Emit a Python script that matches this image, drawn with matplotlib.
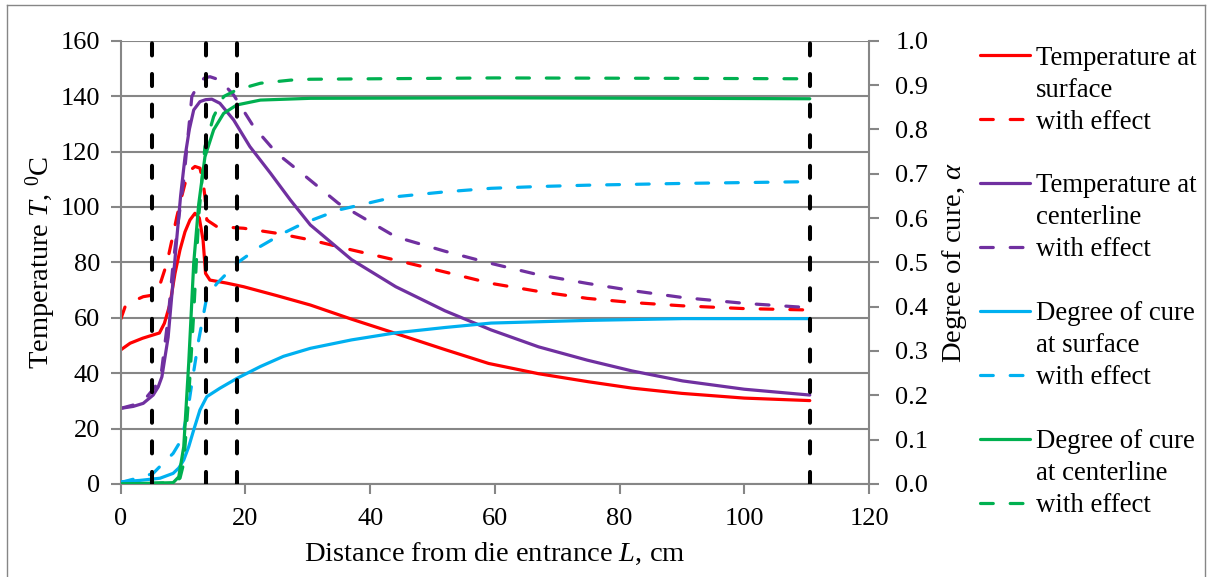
import numpy as np
import matplotlib.pyplot as plt
from matplotlib.lines import Line2D

plt.rcParams['font.family'] = ['Liberation Serif', 'DejaVu Serif']
plt.rcParams['mathtext.fontset'] = 'custom'
plt.rcParams['mathtext.rm'] = 'Liberation Serif'
plt.rcParams['mathtext.it'] = 'Liberation Serif:italic'

# Temperatura na superficie (sem / com efeito)
x_Ts = [0, 1.5, 3.5, 5.2, 6.2, 7.0, 7.9, 8.7, 9.5, 10.3, 11.1, 11.9, 12.6, 13.2, 13.6, 14.3,
        17, 19.7, 25, 30.4, 37, 44, 52, 59, 67, 75, 82, 90, 100, 110.5]
T_s = [48.4, 50.8, 52.6, 53.8, 54.5, 58, 65, 76, 84.5, 91, 95.3, 97.7, 96, 88, 76, 73.6,
       72.5, 71.2, 68, 64.6, 59.5, 54.4, 48.5, 43.5, 39.8, 36.9, 34.6, 32.7, 31.0, 30.1]
x_Ts_e = [0, 0.7, 2, 3.6, 5.2, 6.0, 7.4, 8.2, 9.0, 9.8, 10.6, 11.3, 11.9, 12.7, 13.2, 13.5, 13.8,
          15.4, 19.7, 25, 30.4, 37, 44.1, 52, 59.4, 67, 74.8, 82, 90.1, 100, 110.5]
T_s_e = [59.5, 64, 66, 67.6, 68.2, 70, 79.7, 88, 96.5, 104, 111, 113.5, 114.6, 114, 109, 103.7, 95.3,
         92.9, 92.3, 90.5, 88.1, 84.5, 80.8, 76.5, 72.4, 69.5, 67, 65.5, 64.3, 63.3, 62.8]

# Temperatura na linha central
x_Tc = [0, 2, 3.6, 5.2, 6.0, 6.6, 7.6, 8.3, 9.0, 9.6, 10.3, 11.0, 11.7, 12.7, 13.6, 14.6, 15.9,
        18.1, 20.7, 24.0, 27.2, 30.4, 37, 44.1, 52, 59.4, 67, 74.8, 82, 90.1, 100, 110.5]
T_c = [27.3, 28, 29.1, 32.1, 35, 38.7, 53, 71, 89, 104, 118, 128, 135, 138, 138.7, 138.9, 137.4,
       131.4, 121.8, 112.2, 102.5, 93.5, 81, 71.2, 62.5, 55.6, 49.5, 44.7, 40.8, 37.2, 34.2, 32.1]
x_Tc_e = [0, 2, 4.2, 5.5, 6.5, 7.6, 8.4, 9.3, 10.1, 10.8, 11.4, 12.5, 13.4, 14.3, 15.9, 18.1,
          21.3, 25.0, 29.0, 34.9, 44.1, 52, 59.4, 67, 74.8, 82, 90.1, 100, 108.6, 110.5]
T_c_e = [27.3, 28.5, 31.5, 35, 40, 60, 79.7, 96, 109.7, 126, 139.8, 144.6, 146.5, 147, 145.8, 140.4,
         129, 119.4, 112.2, 101.3, 89.2, 84, 79.6, 75.5, 72.4, 69.8, 67.3, 65.2, 63.9, 63.8]

# Grau de cura na superficie
x_as = [0, 3, 6.3, 8.4, 9.3, 10.1, 10.9, 11.7, 12.7, 13.8, 15.9, 18.6, 22.4, 26.1, 30.4, 37,
        44.1, 52, 59.4, 67, 74.8, 90.1, 110.5]
a_s = [0.005, 0.008, 0.013, 0.024, 0.036, 0.054, 0.084, 0.122, 0.167, 0.197, 0.216, 0.238, 0.265,
       0.288, 0.306, 0.325, 0.341, 0.353, 0.363, 0.366, 0.369, 0.373, 0.373]
x_as_e = [0, 1.5, 3.5, 5.2, 6.8, 8.4, 9.3, 10.1, 10.8, 11.4, 12.5, 13.8, 15.4, 18.6, 22.4, 26.1,
          29.3, 34.9, 44.1, 52, 59.4, 67, 74.8, 90.1, 110.5]
a_s_e = [0.003, 0.009, 0.016, 0.024, 0.047, 0.069, 0.09, 0.122, 0.17, 0.227, 0.325, 0.422, 0.452,
         0.498, 0.536, 0.566, 0.588, 0.618, 0.648, 0.659, 0.667, 0.671, 0.674, 0.678, 0.682]

# Grau de cura na linha central
x_ac = [0, 8.4, 9.3, 10.1, 10.9, 11.7, 12.5, 13.5, 14.9, 16.5, 18.6, 22.4, 30.4, 60, 90, 110.5]
a_c = [0, 0.003, 0.016, 0.084, 0.273, 0.498, 0.631, 0.738, 0.799, 0.836, 0.855, 0.866, 0.870,
       0.871, 0.870, 0.869]
x_ac_e = [0, 8.4, 9.5, 10.1, 10.9, 11.7, 12.5, 13.5, 14.9, 16.5, 18.6, 22.4, 27.2, 30.4, 60, 90, 110.5]
a_c_e = [0, 0.003, 0.013, 0.047, 0.197, 0.385, 0.603, 0.761, 0.829, 0.874, 0.889, 0.904, 0.911,
         0.913, 0.916, 0.915, 0.914]

# Limites das zonas
zonas = [5, 13.6, 18.6, 110.5]

red, purple, cyan, green = '#FF0000', '#7030A0', '#00B0F0', '#00B050'
grey = '#868686'
lw = 2.3
dash = (4, 5.3)
fs_tick = 19
fs_label = 20.5
fs_leg = 19.3

fig = plt.figure(figsize=(12.1, 5.77), dpi=100)
ax = fig.add_axes([0.0998, 0.1612, 0.6184, 0.7683])
ax2 = ax.twinx()

def linha(a, x, y, c, tracejada=False):
    l, = a.plot(x, y, color=c, lw=lw, solid_capstyle='round')
    if tracejada:
        l.set_dashes(dash)
        l.set_dash_capstyle('round')
    return l

l1 = linha(ax, x_Ts, T_s, red)
l2 = linha(ax, x_Ts_e, T_s_e, red, True)
l3 = linha(ax, x_Tc, T_c, purple)
l4 = linha(ax, x_Tc_e, T_c_e, purple, True)
l5 = linha(ax2, x_as, a_s, cyan)
l6 = linha(ax2, x_as_e, a_s_e, cyan, True)
l7 = linha(ax2, x_ac, a_c, green)
l8 = linha(ax2, x_ac_e, a_c_e, green, True)

for z in zonas:
    v = ax2.axvline(z, color='black', lw=2.9, dash_capstyle='round')
    v.set_dashes((3, 4.6))

ax.set_xlim(0, 120)
ax.set_ylim(0, 160)
ax2.set_ylim(0, 1.0)
ax.set_xticks(np.arange(0, 121, 20))
ax.set_yticks(np.arange(0, 161, 20))
ax2.set_yticks(np.arange(0, 1.01, 0.1))
ax2.set_yticklabels([f'{v:.1f}' for v in np.arange(0, 1.01, 0.1)])

ax.grid(axis='y', color=grey, lw=1.5)
ax.set_axisbelow(True)
for a in (ax, ax2):
    for s in a.spines.values():
        s.set_visible(False)
    a.tick_params(labelsize=fs_tick, length=7, width=1.5, color=grey, direction='out')
ax.spines['left'].set_visible(True)
ax.spines['bottom'].set_visible(True)
ax2.spines['right'].set_visible(True)
for s in (ax.spines['left'], ax.spines['bottom'], ax2.spines['right']):
    s.set_color(grey)
    s.set_linewidth(1.5)
ax.tick_params(axis='x', pad=10)
ax.tick_params(axis='y', pad=8)
ax2.tick_params(axis='y', pad=12)

ax.set_xlabel('Distance from die entrance $L$, cm', fontsize=fs_label, labelpad=8)
ax.set_ylabel('Temperature $T$, $^{0}$C', fontsize=fs_label, labelpad=2)
ax2.set_ylabel(r'Degree of cure, $\alpha$', fontsize=fs_label, labelpad=8)

# Legenda com linhas em branco entre os grupos
vazio = Line2D([], [], linestyle='none')
handles = [l1, vazio, l2, vazio,
           l3, vazio, l4, vazio,
           l5, vazio, l6, vazio,
           l7, vazio, l8]
labels = ['Temperature at', 'surface', 'with effect', ' ',
          'Temperature at', 'centerline', 'with effect', ' ',
          'Degree of cure', 'at surface', 'with effect', ' ',
          'Degree of cure', 'at centerline', 'with effect']
fig.legend(handles, labels, loc='upper left', bbox_to_anchor=(0.81, 0.921),
           frameon=False, fontsize=fs_leg, handlelength=1.87, handletextpad=0.2,
           labelspacing=0.26, borderpad=0, borderaxespad=0)

# Moldura do grafico
for xs, ys in [([0.0058, 0.0058], [0, 0.991]), ([0.0058, 0.9959], [0.991, 0.991]),
               ([0.9959, 0.9959], [0, 0.991])]:
    fig.add_artist(Line2D(xs, ys, color=grey, lw=1, transform=fig.transFigure))

fig.savefig('out.png', dpi=100)
